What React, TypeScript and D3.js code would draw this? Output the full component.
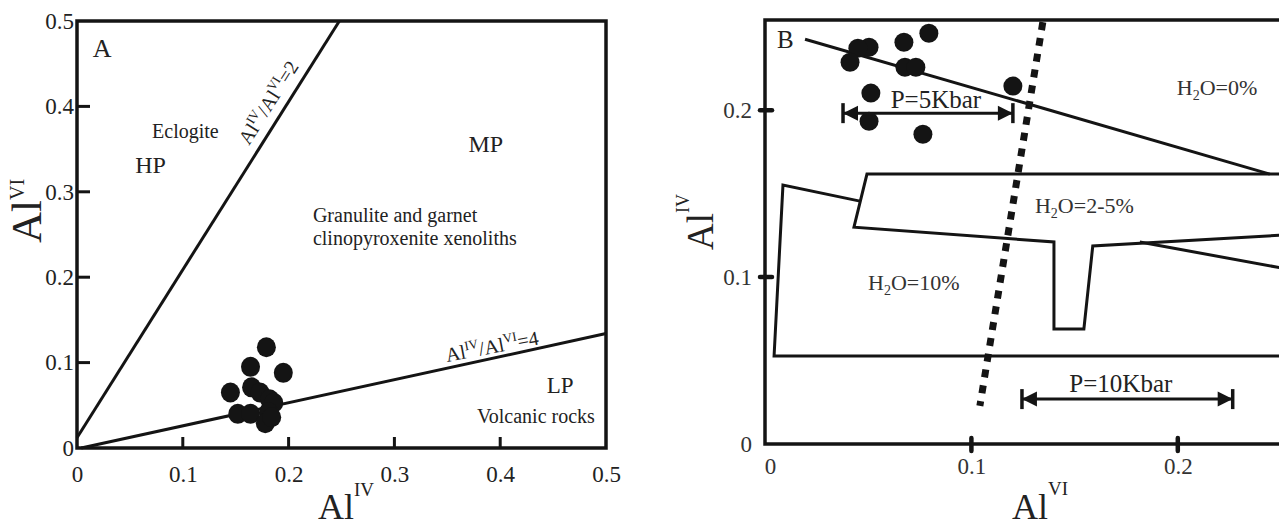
import { useEffect, useRef } from 'react';
import * as d3 from 'd3';

const W = 1279;
const H = 529;
const FONT = "'Liberation Serif', 'Times New Roman', serif";

// ---- Panel A: AlIV (x) vs AlVI (y) ----
const aTicks = [0, 0.1, 0.2, 0.3, 0.4, 0.5];
const aTickLabels = ["0", "0.1", "0.2", "0.3", "0.4", "0.5"];
const aAlIV = [0.179, 0.164, 0.195, 0.145, 0.165, 0.173, 0.182, 0.186, 0.152, 0.164, 0.181, 0.178, 0.184];
const aAlVI = [0.118, 0.095, 0.088, 0.065, 0.071, 0.065, 0.057, 0.053, 0.040, 0.040, 0.042, 0.029, 0.036];
const ratio2Line: [number, number][] = [[0, 0.012], [0.248, 0.5]];
const ratio4Line: [number, number][] = [[0.004, 0], [0.5, 0.134]];
const aRegionLabels = [
  { text: "A", x: 0.015, y: 0.458, size: 26 },
  { text: "Eclogite", x: 0.071, y: 0.363, size: 20 },
  { text: "HP", x: 0.055, y: 0.322, size: 24 },
  { text: "MP", x: 0.370, y: 0.347, size: 24 },
  { text: "Granulite and garnet", x: 0.223, y: 0.265, size: 20 },
  { text: "clinopyroxenite xenoliths", x: 0.223, y: 0.238, size: 20 },
  { text: "LP", x: 0.444, y: 0.064, size: 23 },
  { text: "Volcanic rocks", x: 0.378, y: 0.029, size: 20 },
];

// ---- Panel B: AlVI (x) vs AlIV (y) ----
const bTicks = [0, 0.1, 0.2];
const bTickLabels = ["0", "0.1", "0.2"];
const bAlVI = [0.0794, 0.0673, 0.0504, 0.0450, 0.0412, 0.0678, 0.0731, 0.1201, 0.0513, 0.0504, 0.0765];
const bAlIV = [0.2461, 0.2407, 0.2377, 0.2371, 0.2287, 0.2257, 0.2257, 0.2144, 0.2102, 0.1934, 0.1856];
const h2o0Boundary: [number, number][] = [[0.0194, 0.2425], [0.2446, 0.1617]];
const h2o25Outline: [number, number][] = [
  [0.2504, 0.1617], [0.0494, 0.1617], [0.0431, 0.1299], [0.1400, 0.1210],
  [0.1400, 0.0689], [0.1545, 0.0689], [0.1588, 0.1186], [0.2504, 0.1251],
];
const h2o10Outline: [number, number][] = [[0.0460, 0.1455], [0.0087, 0.1551], [0.0044, 0.0527], [0.2504, 0.0527]];
const crossLine: [number, number][] = [[0.1816, 0.1210], [0.2504, 0.1054]];
const dottedLine: [number, number][] = [[0.1346, 0.2527], [0.1041, 0.0228]];
const pressureArrows = [
  { label: "P=5Kbar", from: 0.0378, to: 0.1201, y: 0.1982, lx: 0.0828, ly: 0.2013 },
  { label: "P=10Kbar", from: 0.1245, to: 0.2266, y: 0.0269, lx: 0.1724, ly: 0.0312 },
];
const h2oLabels = [
  { parts: ["H", "2", "O=0%"], x: 0.1995, y: 0.2091 },
  { parts: ["H", "2", "O=2-5%"], x: 0.1308, y: 0.1384 },
  { parts: ["H", "2", "O=10%"], x: 0.0499, y: 0.0923 },
];

type Part = { t: string; sup?: boolean; sub?: boolean };

function addRich(sel: d3.Selection<SVGTextElement, unknown, null, undefined>, parts: Part[], size: number, small: number, raise: number, lower = 5) {
  let shift = 0;
  parts.forEach(p => {
    const target = p.sup ? -raise : p.sub ? lower : 0;
    sel.append('tspan')
      .attr('dy', target - shift)
      .attr('font-size', p.sup || p.sub ? small : size)
      .text(p.t);
    shift = target;
  });
}

export default function App() {
  const svgRef = useRef<SVGSVGElement>(null);

  useEffect(() => {
    if (!svgRef.current) return;
    const svg = d3.select(svgRef.current);
    svg.selectAll('*').remove();
    const ink = '#141414';
    const textInk = '#222';

    // ================= Panel A =================
    const xA = d3.scaleLinear().domain([0, 0.5]).range([77, 606]);
    const yA = d3.scaleLinear().domain([0, 0.5]).range([448, 21]);
    const gA = svg.append('g');

    gA.append('rect')
      .attr('x', xA(0)).attr('y', yA(0.5))
      .attr('width', xA(0.5) - xA(0)).attr('height', yA(0) - yA(0.5))
      .attr('fill', 'none').attr('stroke', ink).attr('stroke-width', 3.5);

    const inner = aTicks.filter(t => t > 0 && t < 0.5);
    gA.selectAll('.tick-y').data(inner).enter().append('line')
      .attr('x1', xA(0)).attr('x2', xA(0) + 13)
      .attr('y1', d => yA(d)).attr('y2', d => yA(d))
      .attr('stroke', ink).attr('stroke-width', 3);
    gA.selectAll('.tick-x').data(inner).enter().append('line')
      .attr('x1', d => xA(d)).attr('x2', d => xA(d))
      .attr('y1', yA(0)).attr('y2', yA(0) - 11)
      .attr('stroke', ink).attr('stroke-width', 3);

    const axA = gA.append('g').attr('transform', `translate(${xA(0)},0)`)
      .call(d3.axisLeft(yA).tickValues(aTicks).tickFormat((_d, i) => aTickLabels[i]).tickSize(0).tickPadding(3));
    const axAx = gA.append('g').attr('transform', `translate(0,${yA(0)})`)
      .call(d3.axisBottom(xA).tickValues(aTicks).tickFormat((_d, i) => aTickLabels[i]).tickSize(0).tickPadding(18));
    [axA, axAx].forEach(ax => {
      ax.select('.domain').remove();
      ax.selectAll('text').attr('font-family', FONT).attr('font-size', 23).attr('fill', textInk);
    });

    const line = d3.line<[number, number]>();
    const pA = (pts: [number, number][]) => pts.map(p => [xA(p[0]), yA(p[1])] as [number, number]);
    [ratio2Line, ratio4Line].forEach(l => {
      gA.append('path').attr('d', line(pA(l))).attr('fill', 'none')
        .attr('stroke', ink).attr('stroke-width', 3);
    });

    const angleOf = (pts: [number, number][]) =>
      Math.atan2(pts[1][1] - pts[0][1], pts[1][0] - pts[0][0]) * 180 / Math.PI;
    const ratioLabels = [
      { value: "2", x: 0.1626, y: 0.3536, angle: angleOf(pA(ratio2Line)) },
      { value: "4", x: 0.3497, y: 0.1007, angle: angleOf(pA(ratio4Line)) + 1.5 },
    ];
    ratioLabels.forEach(r => {
      const t = gA.append('text')
        .attr('transform', `translate(${xA(r.x)},${yA(r.y)}) rotate(${r.angle})`)
        .attr('font-family', FONT).attr('fill', textInk);
      addRich(t, [{ t: "Al" }, { t: "IV", sup: true }, { t: "/" }, { t: "Al" }, { t: "VI", sup: true }, { t: "=" + r.value }], 20, 13, 8);
    });

    gA.selectAll('.region').data(aRegionLabels).enter().append('text')
      .attr('x', d => xA(d.x)).attr('y', d => yA(d.y))
      .attr('font-family', FONT).attr('font-size', d => d.size).attr('fill', textInk)
      .text(d => d.text);

    const aPts = aAlIV.map((v, i) => [v, aAlVI[i]]);
    gA.selectAll('.dot').data(aPts).enter().append('ellipse')
      .attr('cx', d => xA(d[0])).attr('cy', d => yA(d[1]))
      .attr('rx', 9.5).attr('ry', 10).attr('fill', ink);

    const tA = gA.append('text').attr('transform', `translate(41,243) rotate(-90)`)
      .attr('font-family', FONT).attr('fill', textInk);
    addRich(tA, [{ t: "Al" }, { t: "VI", sup: true }], 43, 20, 17);
    const tAx = gA.append('text').attr('x', 318).attr('y', 519)
      .attr('font-family', FONT).attr('fill', textInk);
    addRich(tAx, [{ t: "Al" }, { t: "IV", sup: true }], 36, 19, 23);

    // ================= Panel B =================
    const xB = d3.scaleLinear().domain([0, 0.25]).range([765, 1281]);
    const yB = d3.scaleLinear().domain([0, 0.254]).range([444, 20]);
    const gB = svg.append('g');
    const pB = (pts: [number, number][]) => pts.map(p => [xB(p[0]), yB(p[1])] as [number, number]);

    gB.append('rect')
      .attr('x', xB(0)).attr('y', yB(0.254))
      .attr('width', xB(0.25) - xB(0)).attr('height', yB(0) - yB(0.254))
      .attr('fill', 'none').attr('stroke', ink).attr('stroke-width', 3.5);

    const innerB = bTicks.filter(t => t > 0);
    gB.selectAll('.tick-y').data(innerB).enter().append('line')
      .attr('x1', xB(0) - 5).attr('x2', xB(0) + 7)
      .attr('y1', d => yB(d)).attr('y2', d => yB(d))
      .attr('stroke', ink).attr('stroke-width', 4.5).attr('stroke-linecap', 'round');
    gB.selectAll('.tick-x').data(innerB).enter().append('line')
      .attr('x1', d => xB(d)).attr('x2', d => xB(d))
      .attr('y1', yB(0) - 6).attr('y2', yB(0) + 7)
      .attr('stroke', ink).attr('stroke-width', 4.5).attr('stroke-linecap', 'round');

    const axB = gB.append('g').attr('transform', `translate(${xB(0)},0)`)
      .call(d3.axisLeft(yB).tickValues(bTicks).tickFormat((_d, i) => bTickLabels[i]).tickSize(0).tickPadding(13));
    const axBx = gB.append('g').attr('transform', `translate(0,${yB(0)})`)
      .call(d3.axisBottom(xB).tickValues(bTicks).tickFormat((_d, i) => bTickLabels[i]).tickSize(0).tickPadding(14));
    [axB, axBx].forEach(ax => {
      ax.select('.domain').remove();
      ax.selectAll('text').attr('font-family', FONT).attr('font-size', 23).attr('fill', '#333');
    });
    axBx.selectAll('text').attr('dx', (_d, i) => (i === 0 ? 5 : 0));

    [h2o0Boundary, h2o25Outline, h2o10Outline, crossLine].forEach(l => {
      gB.append('path').attr('d', line(pB(l))).attr('fill', 'none')
        .attr('stroke', ink).attr('stroke-width', 3).attr('stroke-linejoin', 'miter');
    });

    gB.append('path').attr('d', line(pB(dottedLine))).attr('fill', 'none')
      .attr('stroke', ink).attr('stroke-width', 7).attr('stroke-dasharray', '8 8');

    pressureArrows.forEach(a => {
      const x1 = xB(a.from), x2 = xB(a.to), y = yB(a.y);
      gB.append('line').attr('x1', x1).attr('x2', x2).attr('y1', y).attr('y2', y)
        .attr('stroke', ink).attr('stroke-width', 3);
      gB.append('path').attr('d', `M${x1},${y}L${x1 + 15},${y - 7.5}L${x1 + 15},${y + 7.5}Z`).attr('fill', ink);
      gB.append('path').attr('d', `M${x2},${y}L${x2 - 15},${y - 7.5}L${x2 - 15},${y + 7.5}Z`).attr('fill', ink);
      [x1, x2].forEach(x => {
        gB.append('line').attr('x1', x).attr('x2', x).attr('y1', y - 10).attr('y2', y + 10)
          .attr('stroke', ink).attr('stroke-width', 3.5);
      });
      gB.append('text').attr('x', xB(a.lx)).attr('y', yB(a.ly)).attr('text-anchor', 'middle')
        .attr('font-family', FONT).attr('font-size', 25).attr('fill', textInk).text(a.label);
    });

    h2oLabels.forEach(h => {
      const t = gB.append('text').attr('x', xB(h.x)).attr('y', yB(h.y))
        .attr('font-family', FONT).attr('fill', '#333');
      addRich(t, [{ t: h.parts[0] }, { t: h.parts[1], sub: true }, { t: h.parts[2] }], 22, 14, 0, 5);
    });

    gB.append('text').attr('x', xB(0.0058)).attr('y', yB(0.2373))
      .attr('font-family', FONT).attr('font-size', 25).attr('fill', textInk).text('B');

    const bPts = bAlVI.map((v, i) => [v, bAlIV[i]]);
    gB.selectAll('.dot').data(bPts).enter().append('ellipse')
      .attr('cx', d => xB(d[0])).attr('cy', d => yB(d[1]))
      .attr('rx', 9.5).attr('ry', 9.5).attr('fill', ink);

    const tB = gB.append('text').attr('transform', `translate(713,250) rotate(-90)`)
      .attr('font-family', FONT).attr('fill', textInk);
    addRich(tB, [{ t: "Al" }, { t: "IV", sup: true }], 37, 18, 24);
    const tBx = gB.append('text').attr('x', 1012).attr('y', 519)
      .attr('font-family', FONT).attr('fill', textInk);
    addRich(tBx, [{ t: "Al" }, { t: "VI", sup: true }], 36, 19, 24);
  }, []);

  return (
    <svg ref={svgRef} width={W} height={H}
      style={{ position: 'absolute', left: 0, top: 0, background: '#fff', display: 'block' }} />
  );
}
